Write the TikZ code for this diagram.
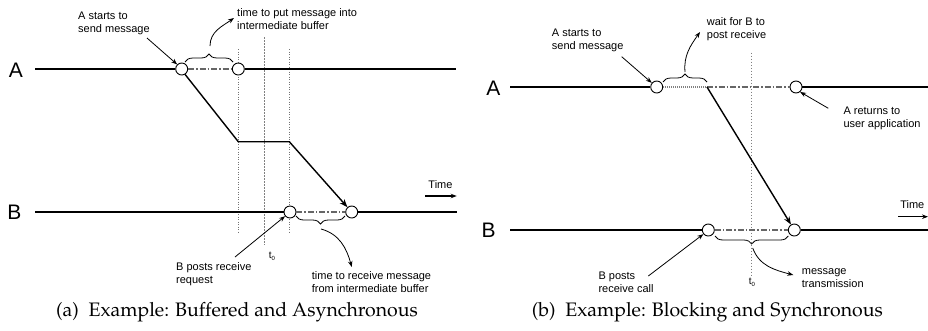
\documentclass[tikz,border=0pt]{standalone}
\usepackage[T1]{fontenc}
\usepackage{fontspec}
\setmainfont{Liberation Sans}
\usetikzlibrary{arrows.meta,decorations.pathreplacing}
\tikzset{
  tl/.style={line width=2pt},
  msg/.style={line width=1.4pt},
  circ/.style={circle,draw,line width=0.9pt,fill=white,minimum size=12pt,inner sep=0pt},
  dashdot/.style={line width=1.4pt,black!60,dash pattern=on 6pt off 2pt on 1.5pt off 2pt},
  fdot/.style={line width=1.6pt,black!50,dash pattern=on 1pt off 1pt},
  vdot/.style={line width=0.6pt,black!55,dash pattern=on 1pt off 1.5pt},
  vdotm/.style={line width=1pt,black!50,dash pattern=on 1.5pt off 1.5pt},
  annarr/.style={line width=0.8pt,-{Stealth[length=6pt,width=4.5pt]}},
  msgarr/.style={msg,-{Stealth[length=8pt,width=6pt]}},
  brc/.style={decorate,decoration={brace,amplitude=8pt},line width=0.8pt},
  brcm/.style={decorate,decoration={brace,amplitude=8pt,mirror},line width=0.8pt},
  lbl/.style={font=\fontsize{11}{13}\selectfont,align=left,anchor=west,inner sep=0pt},
  big/.style={font=\fontsize{21}{24}\selectfont,inner sep=0pt},
  captxt/.style={font=\fontencoding{T1}\fontfamily{ppl}\fontsize{19.5}{23}\selectfont,inner sep=0pt},
  tz/.style={font=\fontsize{10}{12}\selectfont,inner sep=0pt}
}
\begin{document}
\begin{tikzpicture}[x=1pt,y=-1pt]
\useasboundingbox (0,0) rectangle (928,330);
% ================= (a) =================
\node[big] (Aa) at (16,70) {A};
\node[big] (Ba) at (14.5,212) {B};
\coordinate (aL) at (35,69);
\coordinate (aR) at (456,69);
\coordinate (bL) at (35,212);
\coordinate (bR) at (457,212);
% vertical dotted lines
\coordinate (v1t) at (238.3,49); \coordinate (v1b) at (238.3,232);
\coordinate (v2t) at (264,37); \coordinate (v2b) at (264,245);
\coordinate (v3t) at (289.3,49); \coordinate (v3b) at (289.3,232);
\draw[vdot] (v1t) -- (v1b);
\draw[vdotm] (v2t) -- (v2b);
\draw[vdot] (v3t) -- (v3b);
\node[tz] (t0a) at (272,256) {t\raisebox{-2pt}{\fontsize{6}{7}\selectfont 0}};
% circles
\node[circ] (a1) at (181.7,69) {};
\node[circ] (a2) at (238.3,69) {};
\node[circ] (b1) at (290,212) {};
\node[circ] (b2) at (351.7,212) {};
\draw[tl] (aL) -- (a1.west);
\draw[tl] (a2.east) -- (aR);
\draw[tl] (bL) -- (b1.west);
\draw[tl] (b2.east) -- (bR);
\draw[dashdot] (a1.east) -- (a2.west);
\draw[dashdot] (b1.east) -- (b2.west);
% message path
\coordinate (m1) at (238.3,141.7);
\coordinate (m2) at (289.3,141.7);
\draw[msgarr] (a1.-58) -- (m1) -- (m2) -- (b2);
% braces
\draw[brc] (185,62) -- (233,62);
\draw[brcm] (296,216) -- (345,216);
% labels
\node[lbl] (la1) at (78,23) {A starts to\\send message};
\node[lbl] (la2) at (237,19.3) {time to put message into\\intermediate buffer};
\node[lbl] (la3) at (176,274.2) {B posts receive\\request};
\node[lbl] (la4) at (311.7,282.2) {time to receive message\\from intermediate buffer};
\coordinate (s1) at (147,38);
\draw[annarr] (s1) -- (a1.135);
\coordinate (br1) at (210,46);
\coordinate (e1) at (234,18);
\draw[annarr] (br1) to[out=90,in=215] (e1);
\coordinate (s3) at (235,257);
\draw[annarr] (s3) -- (b1.220);
\coordinate (br2) at (321,229);
\coordinate (e2) at (351.7,267);
\draw[annarr] (br2) to[out=-15,in=105] (e2);
% time
\node[lbl,anchor=center] (tma) at (440.5,185) {Time};
\coordinate (ta1) at (425,196);
\coordinate (ta2) at (456.7,196);
\draw[annarr,line width=1.2pt] (ta1) -- (ta2);
\node[captxt] (capa) at (237,312) {(a)\ \ Example: Buffered and Asynchronous};
% ================= (b) =================
\node[big] (Ab) at (493.3,88) {A};
\node[big] (Bb) at (488.5,230) {B};
\coordinate (cL) at (510,87);
\coordinate (cR) at (928,87);
\coordinate (dL) at (510,230);
\coordinate (dR) at (928,230);
\coordinate (wt) at (751,52.7);
\coordinate (wb) at (751,275);
\draw[vdotm] (wt) -- (wb);
\node[tz] (t0b) at (752,282) {t\raisebox{-2pt}{\fontsize{6}{7}\selectfont 0}};
\node[circ] (c1) at (656.7,87) {};
\node[circ] (c2) at (796,87) {};
\node[circ] (d1) at (708.3,230) {};
\node[circ] (d2) at (794.3,230) {};
\coordinate (cm) at (707,87);
\draw[tl] (cL) -- (c1.west);
\draw[tl] (c2.east) -- (cR);
\draw[tl] (dL) -- (d1.west);
\draw[tl] (d2.east) -- (dR);
\draw[fdot] (c1.east) -- (cm);
\draw[dashdot] (cm) -- (c2.west);
\draw[dashdot] (d1.east) -- (d2.west);
\draw[msgarr] (cm) -- (d2);
\draw[brc] (663,82) -- (707,82);
\draw[brcm] (715,236) -- (788.3,236);
\node[lbl] (lb1) at (551.7,40) {A starts to\\send message};
\node[lbl] (lb2) at (706.7,28.8) {wait for B to\\post receive};
\node[lbl] (lb3) at (843.3,118.8) {A returns to\\user application};
\node[lbl] (lb4) at (598.3,282.2) {B posts\\receive call};
\node[lbl] (lb5) at (801.7,278) {message\\transmission};
\coordinate (s4) at (621.7,56.7);
\draw[annarr] (s4) -- (c1.140);
\coordinate (br3) at (685,72);
\coordinate (e3) at (700,32);
\draw[annarr] (br3) to[out=95,in=235] (e3);
\coordinate (s5) at (828.3,108.3);
\draw[annarr] (s5) -- (c2.-50);
\coordinate (s6) at (648.3,276);
\draw[annarr] (s6) -- (d1.220);
\coordinate (br4) at (752.7,248);
\coordinate (e4) at (793.3,275);
\draw[annarr] (br4) to[out=-70,in=165] (e4);
\node[lbl,anchor=center] (tmb) at (912.3,205) {Time};
\coordinate (tb1) at (898,216.7);
\coordinate (tb2) at (928,216.7);
\draw[annarr,line width=1.2pt] (tb1) -- (tb2);
\node[captxt] (capb) at (707.3,312) {(b)\ \ Example: Blocking and Synchronous};
\end{tikzpicture}
\end{document}
